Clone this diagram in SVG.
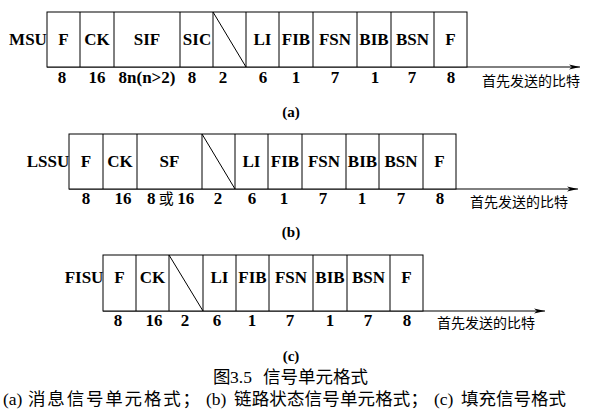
<svg xmlns="http://www.w3.org/2000/svg" width="597" height="420" viewBox="0 0 597 420">
<style>
.box{fill:#fff;stroke:#000;stroke-width:1}
.ln{stroke:#000;stroke-width:1;fill:none}
.lb,.nm,.sub{font-family:'Liberation Serif','Times New Roman','DejaVu Serif',serif;font-weight:bold;text-anchor:middle;fill:#000}
.lb{font-size:17px}
.nm{font-size:17px}
.sub{font-size:15px}
.nt{font-family:'Liberation Serif','Times New Roman','DejaVu Serif',serif;font-weight:bold;font-size:17px;fill:#000}
.cj{font-family:'Noto Sans CJK SC',sans-serif;font-size:14px;fill:#000}
.sr{font-family:'Liberation Serif','Times New Roman','DejaVu Serif',serif;font-size:17.5px;fill:#000}
.cp{font-family:'Noto Sans CJK SC',sans-serif;font-size:17.5px;fill:#000}
</style>
<defs>
<marker id="ah" markerWidth="12" markerHeight="6" refX="11" refY="3" orient="auto" markerUnits="userSpaceOnUse">
<path d="M0,0.5 L11,3 L0,5.5 L3,3 z" fill="#000"/>
</marker>
</defs>

<g id="connectors">
<line class="ln" x1="47" y1="67" x2="580" y2="67" marker-end="url(#ah)"/>
<line class="ln" x1="69" y1="189" x2="578" y2="189" marker-end="url(#ah)"/>
<line class="ln" x1="103" y1="311" x2="545" y2="311" marker-end="url(#ah)"/>
</g>

<g id="msu">
<rect class="box" x="47" y="12" width="420" height="55"/>
<path class="ln" d="M80,12V67M114,12V67M180,12V67M213,12V67M246,12V67M279,12V67M313,12V67M357,12V67M391,12V67M434,12V67M213,12L246,67"/>
<text class="lb" x="28" y="45">MSU</text>
<text class="lb" x="63.5" y="45">F</text>
<text class="lb" x="97" y="45">CK</text>
<text class="lb" x="147" y="45">SIF</text>
<text class="lb" x="197" y="45">SIC</text>
<text class="lb" x="262.5" y="45">LI</text>
<text class="lb" x="296" y="45">FIB</text>
<text class="lb" x="335" y="45">FSN</text>
<text class="lb" x="374" y="45">BIB</text>
<text class="lb" x="412.5" y="45">BSN</text>
<text class="lb" x="450.5" y="45">F</text>
<text class="nm" x="62" y="83">8</text>
<text class="nm" x="97" y="83">16</text>
<text class="nm" x="147" y="83">8n(n&gt;2)</text>
<text class="nm" x="192" y="83">8</text>
<text class="nm" x="223" y="83">2</text>
<text class="nm" x="263" y="83">6</text>
<text class="nm" x="296" y="83">1</text>
<text class="nm" x="335" y="83">7</text>
<text class="nm" x="375" y="83">1</text>
<text class="nm" x="412" y="83">7</text>
<text class="nm" x="451" y="83">8</text>
<text class="cj" x="482" y="86">首先发送的比特</text>
<text class="sub" x="291" y="117">(a)</text>
</g>

<g id="lssu">
<rect class="box" x="69" y="134" width="387" height="55"/>
<path class="ln" d="M103,134V189M137,134V189M202,134V189M235,134V189M268,134V189M302,134V189M346,134V189M379,134V189M423,134V189M202,134L235,189"/>
<text class="lb" x="48" y="167">LSSU</text>
<text class="lb" x="86" y="167">F</text>
<text class="lb" x="120" y="167">CK</text>
<text class="lb" x="169.5" y="167">SF</text>
<text class="lb" x="251.5" y="167">LI</text>
<text class="lb" x="285" y="167">FIB</text>
<text class="lb" x="324" y="167">FSN</text>
<text class="lb" x="362.5" y="167">BIB</text>
<text class="lb" x="401" y="167">BSN</text>
<text class="lb" x="439.5" y="167">F</text>
<text class="nm" x="86" y="204">8</text>
<text class="nm" x="123" y="204">16</text>
<text class="nt" x="147" y="204">8<tspan font-family="Noto Sans CJK SC" font-weight="normal" font-size="15"> 或 </tspan>16</text>
<text class="nm" x="218" y="204">2</text>
<text class="nm" x="252" y="204">6</text>
<text class="nm" x="284" y="204">1</text>
<text class="nm" x="323" y="204">7</text>
<text class="nm" x="362" y="204">1</text>
<text class="nm" x="401" y="204">7</text>
<text class="nm" x="440" y="204">8</text>
<text class="cj" x="470" y="207">首先发送的比特</text>
<text class="sub" x="291" y="237">(b)</text>
</g>

<g id="fisu">
<rect class="box" x="103" y="255" width="320" height="56"/>
<path class="ln" d="M136,255V311M169,255V311M203,255V311M236,255V311M269,255V311M313,255V311M347,255V311M390,255V311M169,255L203,311"/>
<text class="lb" x="84" y="283">FISU</text>
<text class="lb" x="119.5" y="283">F</text>
<text class="lb" x="152.5" y="283">CK</text>
<text class="lb" x="219.5" y="283">LI</text>
<text class="lb" x="252.5" y="283">FIB</text>
<text class="lb" x="291" y="283">FSN</text>
<text class="lb" x="330" y="283">BIB</text>
<text class="lb" x="368.5" y="283">BSN</text>
<text class="lb" x="406.5" y="283">F</text>
<text class="nm" x="118" y="326">8</text>
<text class="nm" x="154" y="326">16</text>
<text class="nm" x="185" y="326">2</text>
<text class="nm" x="217" y="326">6</text>
<text class="nm" x="252" y="326">1</text>
<text class="nm" x="290" y="326">7</text>
<text class="nm" x="330" y="326">1</text>
<text class="nm" x="368" y="326">7</text>
<text class="nm" x="407" y="326">8</text>
<text class="cj" x="437" y="328">首先发送的比特</text>
<text class="sub" x="291" y="361">(c)</text>
</g>

<g id="caption">
<text class="cp" x="213" y="383">图</text>
<text class="sr" x="230" y="383">3.5</text>
<text class="cp" x="263" y="383">信号单元格式</text>
<text class="sr" x="3" y="405">(a)</text>
<text class="cp" x="28" y="405" textLength="172" lengthAdjust="spacing">消息信号单元格式；</text>
<text class="sr" x="206" y="405">(b)</text>
<text class="cp" x="234" y="405" textLength="194" lengthAdjust="spacing">链路状态信号单元格式；</text>
<text class="sr" x="434" y="405">(c)</text>
<text class="cp" x="461" y="405" textLength="105" lengthAdjust="spacing">填充信号格式</text>
</g>
</svg>
